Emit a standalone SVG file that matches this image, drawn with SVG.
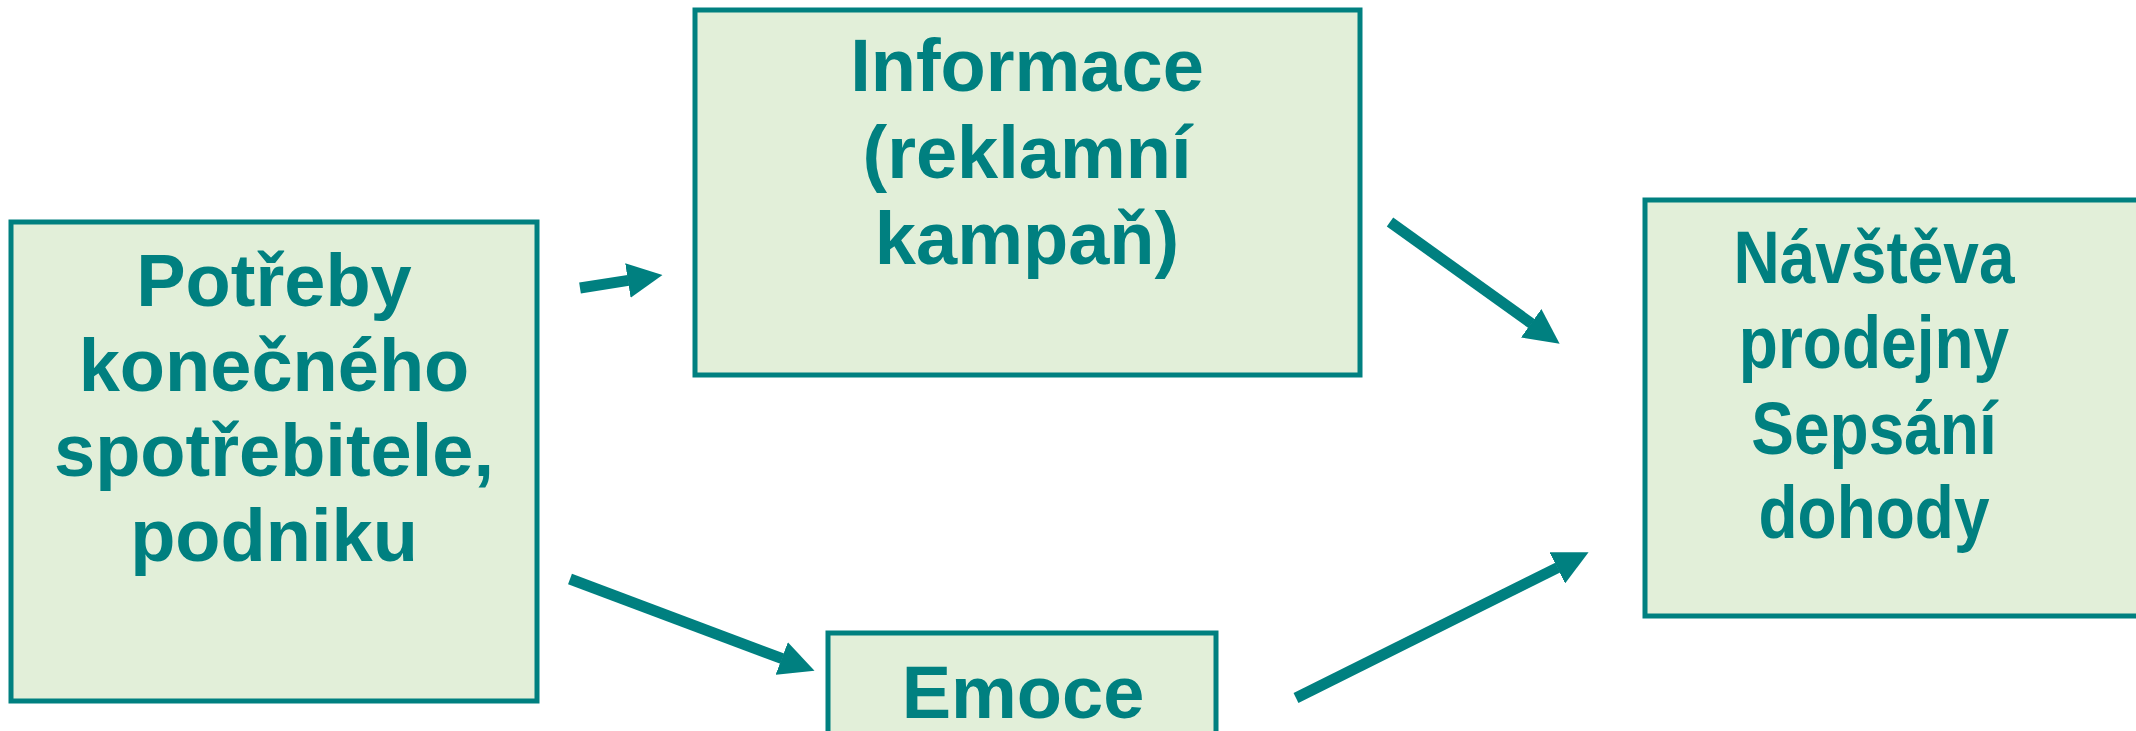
<svg xmlns="http://www.w3.org/2000/svg" width="2136" height="731" viewBox="0 0 2136 731">
<style>
.box{fill:#E2EFD9;stroke:#008080;stroke-width:5}
.t{font-family:"Liberation Sans",Arial,sans-serif;font-weight:bold;font-size:74px;fill:#008080;text-anchor:middle}
.c{stroke:#008080;stroke-width:11;fill:none;marker-end:url(#ah)}
</style>
<defs>
<marker id="ah" viewBox="0 0 35 35" markerWidth="35" markerHeight="35" markerUnits="userSpaceOnUse" refX="0.5" refY="17.5" orient="auto">
<path d="M0,0 L35,17.5 L0,35 z" fill="#008080"/>
</marker>
</defs>
<rect width="2136" height="731" fill="#ffffff"/>
<g id="node-potreby">
<rect class="box" x="11" y="222" width="526" height="479"/>
<text class="t" x="274" y="306">Potřeby</text>
<text class="t" x="274" y="391">konečného</text>
<text class="t" x="274" y="476">spotřebitele,</text>
<text class="t" x="274" y="561">podniku</text>
</g>
<g id="node-informace">
<rect class="box" x="695" y="10" width="665" height="365"/>
<text class="t" x="1027" y="91">Informace</text>
<text class="t" x="1027" y="178">(reklamní</text>
<text class="t" x="1027" y="264">kampaň)</text>
</g>
<g id="node-navsteva">
<rect class="box" x="1645" y="200" width="510" height="416"/>
<g transform="translate(1874,0) scale(0.865,1) translate(-1874,0)">
<text class="t" x="1874" y="283">Návštěva</text>
<text class="t" x="1874" y="368">prodejny</text>
<text class="t" x="1874" y="454">Sepsání</text>
<text class="t" x="1874" y="538">dohody</text>
</g>
</g>
<g id="node-emoce">
<rect class="box" x="828" y="633" width="388" height="120"/>
<text class="t" x="1023" y="718">Emoce</text>
</g>
<g id="connectors">
<line class="c" x1="580" y1="288" x2="628.4" y2="280.4"/>
<line class="c" x1="1390" y1="222" x2="1531.6" y2="323.6"/>
<line class="c" x1="570" y1="579" x2="782.2" y2="658.7"/>
<line class="c" x1="1296" y1="698" x2="1557.7" y2="567.6"/>
</g>
</svg>
